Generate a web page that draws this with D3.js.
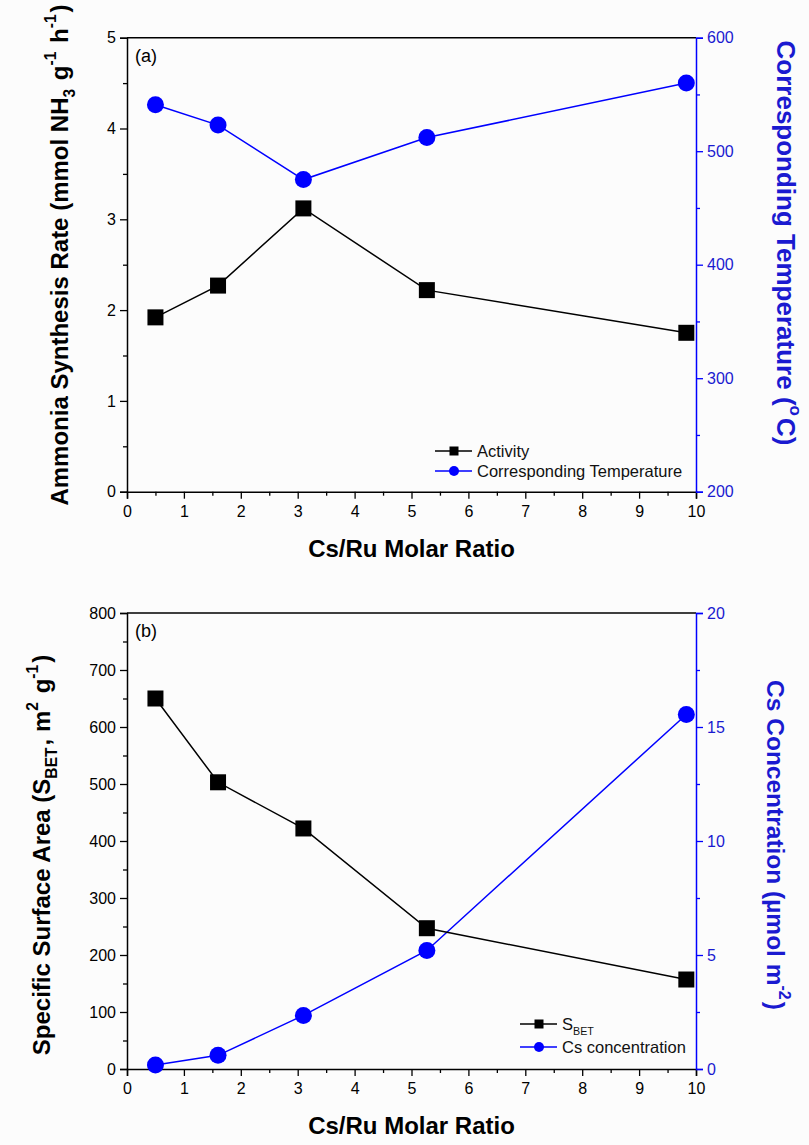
<!DOCTYPE html>
<html>
<head>
<meta charset="utf-8">
<script src="https://cdn.jsdelivr.net/npm/d3@7"></script>
<style>
  body { margin: 0; background: #fcfcfc; }
  text { font-family: "Liberation Sans", Arial, sans-serif; }
</style>
</head>
<body>
<script>
// Cs/Ru molar ratio of the samples
const ratio = [0.5, 1.6, 3.1, 5.27, 9.83];
// panel (a)
const activity = [1.92, 2.27, 3.12, 2.22, 1.75];
const temperature = [541, 523, 475, 512, 560];
// panel (b)
const sbet = [650, 503, 422, 247, 157];
const csConc = [0.18, 0.6, 2.35, 5.2, 15.55];

// tick labels
const xTicks = [0, 1, 2, 3, 4, 5, 6, 7, 8, 9, 10];
const activityTicks = [0, 1, 2, 3, 4, 5];
const tempTicks = [200, 300, 400, 500, 600];
const sbetTicks = [0, 100, 200, 300, 400, 500, 600, 700, 800];
const csTicks = [0, 5, 10, 15, 20];

const W = 809, H = 1145;
const BLUE = "#0000ff";
const BLUE_TEXT = "#1a1ad0";

const svg = d3.select("body").append("svg")
    .attr("width", W)
    .attr("height", H);

const x = d3.scaleLinear().domain([0, 10]).range([127, 696]);

function minorOf(ticks) {
    // halfway points between major ticks
    const out = [];
    for (let i = 0; i < ticks.length - 1; i++) out.push((ticks[i] + ticks[i + 1]) / 2);
    return out;
}

function drawPanel(opt) {
    const g = svg.append("g");
    const yL = d3.scaleLinear().domain(opt.leftDomain).range([opt.bottom, opt.top]);
    const yR = d3.scaleLinear().domain(opt.rightDomain).range([opt.bottom, opt.top]);

    // top frame line
    g.append("line")
        .attr("x1", x.range()[0]).attr("x2", x.range()[1])
        .attr("y1", opt.top).attr("y2", opt.top)
        .attr("stroke", "#000").attr("stroke-width", 1.5);

    // bottom axis
    const bx = g.append("g").attr("transform", `translate(0,${opt.bottom})`)
        .call(d3.axisBottom(x).tickValues(xTicks).tickSize(7).tickPadding(6).tickFormat(d3.format("d")));
    g.append("g").attr("transform", `translate(0,${opt.bottom})`)
        .call(d3.axisBottom(x).tickValues(minorOf(xTicks)).tickSize(4).tickFormat(""))
        .call(a => a.select(".domain").remove());

    // left axis
    g.append("g").attr("transform", `translate(${x.range()[0]},0)`)
        .call(d3.axisLeft(yL).tickValues(opt.leftTicks).tickSize(7).tickPadding(4).tickFormat(d3.format("d")));
    g.append("g").attr("transform", `translate(${x.range()[0]},0)`)
        .call(d3.axisLeft(yL).tickValues(minorOf(opt.leftTicks)).tickSize(4).tickFormat(""))
        .call(a => a.select(".domain").remove());

    // right axis (blue)
    const ra = g.append("g").attr("transform", `translate(${x.range()[1]},0)`)
        .call(d3.axisRight(yR).tickValues(opt.rightTicks).tickSize(7).tickPadding(4).tickFormat(d3.format("d")));
    const rm = g.append("g").attr("transform", `translate(${x.range()[1]},0)`)
        .call(d3.axisRight(yR).tickValues(minorOf(opt.rightTicks)).tickSize(4).tickFormat(""));
    rm.select(".domain").remove();
    ra.selectAll("line").attr("stroke", BLUE);
    rm.selectAll("line").attr("stroke", BLUE);
    ra.select(".domain").attr("stroke", BLUE);
    ra.selectAll("text").attr("fill", BLUE_TEXT);

    g.selectAll(".domain").attr("stroke-width", 1.5).filter(function () {
        return d3.select(this).attr("stroke") === "currentColor";
    }).attr("stroke", "#000");
    g.selectAll(".tick line").attr("stroke-width", 1.3);
    g.selectAll(".tick text").attr("font-size", 16).attr("font-family", "Liberation Sans, Arial, sans-serif");
    bx.selectAll(".tick text").attr("dy", "0.75em");

    // blue series
    const blueData = ratio.map((r, i) => [r, opt.right[i]]);
    g.append("path").datum(blueData)
        .attr("fill", "none").attr("stroke", BLUE).attr("stroke-width", 1.5)
        .attr("d", d3.line().x(d => x(d[0])).y(d => yR(d[1])));

    // black series
    const blackData = ratio.map((r, i) => [r, opt.left[i]]);
    g.append("path").datum(blackData)
        .attr("fill", "none").attr("stroke", "#000").attr("stroke-width", 1.5)
        .attr("d", d3.line().x(d => x(d[0])).y(d => yL(d[1])));

    g.selectAll(".sq").data(blackData).join("rect")
        .attr("x", d => x(d[0]) - 8).attr("y", d => yL(d[1]) - 8)
        .attr("width", 16).attr("height", 16).attr("fill", "#000");
    g.selectAll(".ci").data(blueData).join("circle")
        .attr("cx", d => x(d[0])).attr("cy", d => yR(d[1]))
        .attr("r", 8.5).attr("fill", BLUE);

    // panel tag
    g.append("text").attr("x", 135).attr("y", opt.top + 24)
        .attr("font-size", 18).text(opt.tag);

    // x title
    g.append("text").attr("x", (x.range()[0] + x.range()[1]) / 2).attr("y", opt.bottom + 65)
        .attr("text-anchor", "middle").attr("font-size", 24).attr("font-weight", "bold")
        .text("Cs/Ru Molar Ratio");

    // left title
    const lt = g.append("text")
        .attr("transform", `translate(${opt.leftTitleX},${opt.leftTitleY}) rotate(-90)`)
        .attr("text-anchor", "middle").attr("font-size", 24).attr("font-weight", "bold");
    opt.leftTitle(lt);

    // right title
    const rt = g.append("text")
        .attr("transform", `translate(${opt.rightTitleX},${opt.rightTitleY}) rotate(90)`)
        .attr("text-anchor", "middle").attr("font-size", opt.rightTitleSize).attr("font-weight", "bold")
        .attr("fill", BLUE_TEXT);
    opt.rightTitle(rt);

    // legend
    const lg = g.append("g");
    opt.legend.forEach((item, i) => {
        const ly = opt.legendY + i * opt.legendStep;
        lg.append("line").attr("x1", opt.legendX - 42).attr("x2", opt.legendX - 5)
            .attr("y1", ly).attr("y2", ly)
            .attr("stroke", item.color).attr("stroke-width", 1.6);
        if (item.shape === "square") {
            lg.append("rect").attr("x", opt.legendX - 27.5).attr("y", ly - 4.5)
                .attr("width", 9).attr("height", 9).attr("fill", item.color);
        } else {
            lg.append("circle").attr("cx", opt.legendX - 23).attr("cy", ly).attr("r", 5)
                .attr("fill", item.color);
        }
        const t = lg.append("text").attr("x", opt.legendX).attr("y", ly + 6)
            .attr("font-size", 16.5).attr("fill", "#111");
        item.label(t);
    });
}

function sup(t, s) {
    t.append("tspan").attr("font-size", "0.65em").attr("dy", "-0.75em").text(s);
    t.append("tspan").attr("font-size", "1em").attr("dy", "0.49em").text("\u200a");
}
function sub(t, s) {
    t.append("tspan").attr("font-size", "0.65em").attr("dy", "0.45em").text(s);
    t.append("tspan").attr("font-size", "1em").attr("dy", "-0.29em").text("\u200a");
}

drawPanel({
    top: 37.7, bottom: 491.7,
    leftDomain: [0, 5], rightDomain: [200, 600],
    leftTicks: activityTicks, rightTicks: tempTicks,
    left: activity, right: temperature,
    tag: "(a)",
    leftTitleX: 68, leftTitleY: 255,
    leftTitle: t => {
        t.append("tspan").text("Ammonia Synthesis Rate (mmol NH");
        sub(t, "3");
        t.append("tspan").text(" g");
        sup(t, "-1");
        t.append("tspan").text(" h");
        sup(t, "-1");
        t.append("tspan").text(")");
    },
    rightTitleX: 777, rightTitleY: 243, rightTitleSize: 26,
    rightTitle: t => {
        t.append("tspan").text("Corresponding Temperature (");
        sup(t, "o");
        t.append("tspan").text("C)");
    },
    legendX: 477, legendY: 451, legendStep: 20,
    legend: [
        { color: "#000", shape: "square", label: t => t.text("Activity") },
        { color: BLUE, shape: "circle", label: t => t.text("Corresponding Temperature") }
    ]
});

drawPanel({
    top: 613, bottom: 1069,
    leftDomain: [0, 800], rightDomain: [0, 20],
    leftTicks: sbetTicks, rightTicks: csTicks,
    left: sbet, right: csConc,
    tag: "(b)",
    leftTitleX: 50, leftTitleY: 855,
    leftTitle: t => {
        t.append("tspan").text("Specific Surface Area (S");
        sub(t, "BET");
        t.append("tspan").text(", m");
        sup(t, "2");
        t.append("tspan").text(" g");
        sup(t, "-1");
        t.append("tspan").text(")");
    },
    rightTitleX: 767, rightTitleY: 845, rightTitleSize: 24.5,
    rightTitle: t => {
        t.append("tspan").text("Cs Concentration (\u00b5mol m");
        sup(t, "-2");
        t.append("tspan").text(")");
    },
    legendX: 562, legendY: 1024, legendStep: 23,
    legend: [
        { color: "#000", shape: "square", label: t => { t.text("S"); sub(t, "BET"); } },
        { color: BLUE, shape: "circle", label: t => t.text("Cs concentration") }
    ]
});
</script>
</body>
</html>
